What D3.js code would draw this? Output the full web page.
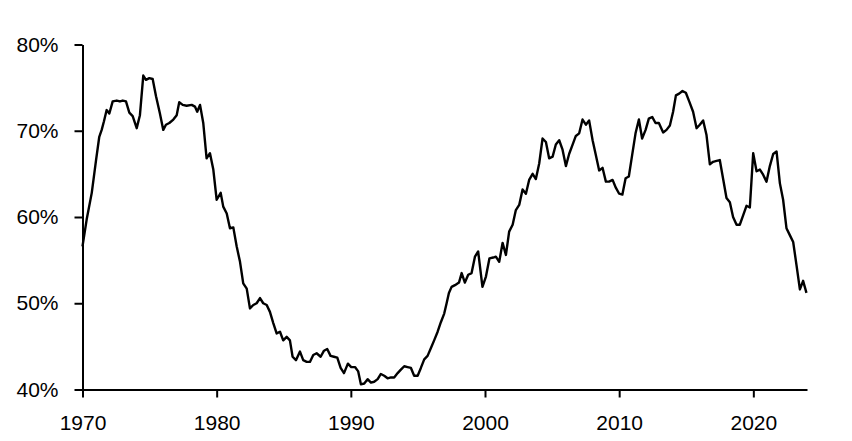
<!DOCTYPE html>
<html>
<head>
<meta charset="utf-8">
<script src="https://cdn.jsdelivr.net/npm/d3@7"></script>
<style>
  html, body { margin: 0; padding: 0; background: #fff; }
  svg { display: block; }
  .tick text { font-family: "Liberation Sans", Arial, sans-serif; font-size: 21px; fill: #000; }
</style>
</head>
<body>
<svg id="chart" width="852" height="441"></svg>
<script>
const years = [
  1970.00,1970.31,1970.69,1971.01,1971.25,1971.43,1971.60,1971.80,1972.00,1972.25,
  1972.55,1972.79,1973.00,1973.24,1973.49,1973.74,1974.04,1974.28,1974.53,1974.73,
  1974.98,1975.23,1975.48,1975.77,1976.02,1976.22,1976.47,1976.77,1977.02,1977.21,
  1977.47,1977.76,1978.14,1978.38,1978.55,1978.76,1979.00,1979.25,1979.50,1979.75,
  1980.00,1980.30,1980.49,1980.75,1980.99,1981.24,1981.49,1981.74,1981.98,1982.24,
  1982.48,1982.73,1982.98,1983.23,1983.47,1983.73,1983.97,1984.22,1984.47,1984.72,
  1984.96,1985.22,1985.46,1985.66,1985.91,1986.21,1986.45,1986.71,1986.95,1987.20,
  1987.45,1987.75,1988.00,1988.24,1988.49,1988.74,1988.99,1989.24,1989.49,1989.78,
  1990.03,1990.31,1990.55,1990.75,1991.00,1991.25,1991.50,1991.74,1992.00,1992.24,
  1992.49,1992.74,1992.99,1993.23,1993.49,1993.73,1993.98,1994.23,1994.48,1994.72,
  1994.98,1995.22,1995.47,1995.72,1995.97,1996.21,1996.47,1996.71,1996.96,1997.14,
  1997.31,1997.51,1997.76,1998.06,1998.26,1998.50,1998.75,1999.00,1999.25,1999.49,
  1999.81,2000.07,2000.33,2000.61,2000.81,2001.06,2001.31,2001.56,2001.80,2002.06,
  2002.30,2002.55,2002.80,2003.05,2003.29,2003.55,2003.79,2004.04,2004.29,2004.54,
  2004.78,2005.04,2005.28,2005.53,2005.78,2006.03,2006.27,2006.53,2006.77,2007.02,
  2007.27,2007.52,2007.76,2008.02,2008.26,2008.51,2008.76,2009.01,2009.25,2009.51,
  2009.75,2010.00,2010.24,2010.48,2010.72,2010.97,2011.22,2011.47,2011.71,2011.97,
  2012.21,2012.46,2012.71,2012.96,2013.28,2013.53,2013.78,2014.02,2014.23,2014.47,
  2014.72,2014.97,2015.22,2015.51,2015.77,2016.01,2016.26,2016.51,2016.76,2017.00,
  2017.26,2017.50,2017.75,2018.00,2018.25,2018.49,2018.75,2018.99,2019.24,2019.49,
  2019.74,2019.99,2020.24,2020.49,2020.73,2020.98,2021.23,2021.48,2021.73,2021.98,
  2022.22,2022.47,2022.72,2022.97,2023.22,2023.47,2023.71,2023.96
];
// Series values, percent
const shares = [
  56.6,59.7,62.8,66.6,69.3,70.1,71.1,72.4,72.0,73.4,
  73.5,73.4,73.5,73.4,72.1,71.7,70.3,71.8,76.4,75.9,
  76.1,76.0,74.0,72.0,70.1,70.7,70.9,71.3,71.8,73.3,
  73.0,72.9,73.0,72.8,72.2,73.0,70.9,66.8,67.4,65.5,
  62.0,62.8,61.2,60.4,58.7,58.8,56.6,54.8,52.3,51.7,
  49.4,49.8,50.0,50.6,50.0,49.8,49.0,47.7,46.5,46.7,
  45.7,46.1,45.7,43.8,43.4,44.4,43.4,43.2,43.2,44.0,
  44.2,43.8,44.5,44.7,43.9,43.8,43.7,42.5,41.9,43.0,
  42.6,42.6,42.1,40.6,40.7,41.2,40.8,40.9,41.2,41.8,
  41.6,41.3,41.4,41.4,41.9,42.3,42.7,42.6,42.5,41.6,
  41.6,42.5,43.5,43.9,44.8,45.7,46.7,47.8,48.8,50.0,
  51.2,51.9,52.1,52.4,53.5,52.4,53.3,53.5,55.4,56.0,
  51.9,53.1,55.2,55.3,55.4,54.8,57.0,55.6,58.3,59.1,
  60.8,61.4,63.2,62.7,64.3,65.0,64.4,66.2,69.1,68.7,
  66.8,67.0,68.4,68.9,67.8,65.9,67.3,68.4,69.4,69.7,
  71.3,70.7,71.2,68.9,67.2,65.4,65.7,64.1,64.1,64.3,
  63.4,62.7,62.6,64.5,64.7,67.2,69.7,71.3,69.1,70.1,
  71.4,71.6,70.9,70.9,69.8,70.1,70.6,72.2,74.1,74.3,
  74.6,74.4,73.4,72.2,70.3,70.7,71.2,69.5,66.1,66.4,
  66.5,66.6,64.4,62.2,61.7,60.0,59.1,59.1,60.2,61.3,
  61.1,67.4,65.3,65.5,64.9,64.1,65.9,67.3,67.6,63.9,
  62.0,58.7,57.9,57.1,54.4,51.6,52.6,51.2
];
const xTicks = [1970, 1980, 1990, 2000, 2010, 2020];
const yTicks = [40, 50, 60, 70, 80];
const xDomain = [1970, 2024];
const yDomain = [40, 80];

const svg = d3.select("#chart");
const plotL = 82.5, plotR = 807, plotT = 44.5, plotB = 389.5;

const x = d3.scaleLinear().domain(xDomain).range([plotL, plotR]);
const y = d3.scaleLinear().domain(yDomain).range([plotB, plotT]);

const data = years.map((yr, i) => ({ yr, v: shares[i] }));

// Axes
const yAxis = d3.axisLeft(y).tickValues(yTicks).tickSizeInner(8).tickSizeOuter(0)
  .tickPadding(16).tickFormat(d => d + "%");
const xAxis = d3.axisBottom(x).tickValues(xTicks).tickSizeInner(8).tickSizeOuter(0)
  .tickPadding(14).tickFormat(d3.format("d"));

const gy = svg.append("g").attr("transform", `translate(${plotL},0)`).call(yAxis);
const gx = svg.append("g").attr("transform", `translate(0,${plotB})`).call(xAxis);

[gx, gy].forEach(g => {
  g.select(".domain").attr("stroke", "#000").attr("stroke-width", 2);
  g.selectAll(".tick line").attr("stroke", "#000").attr("stroke-width", 2);
});
gx.selectAll(".tick text").attr("dy", "0.9em");

// Line
const line = d3.line().x(d => x(d.yr)).y(d => y(d.v));
svg.append("path")
  .datum(data)
  .attr("fill", "none")
  .attr("stroke", "#000")
  .attr("stroke-width", 2.4)
  .attr("stroke-linejoin", "round")
  .attr("d", line);
</script>
</body>
</html>
